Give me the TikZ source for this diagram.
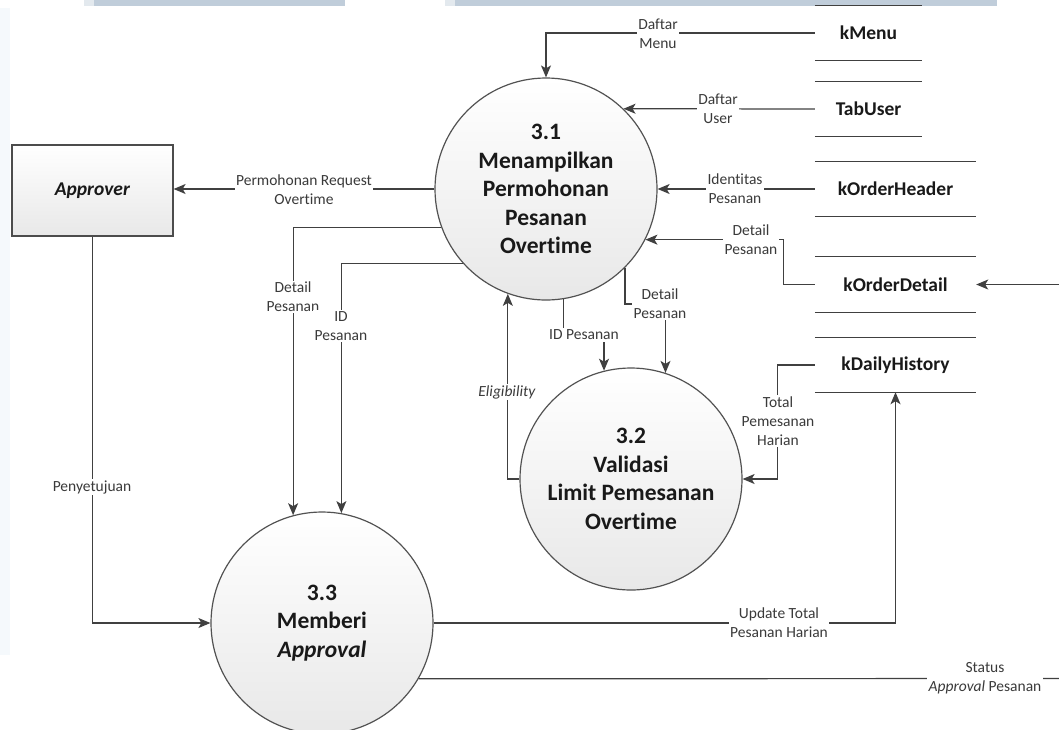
\documentclass[tikz,border=0pt]{standalone}
\usepackage{fontspec}
\setmainfont{Carlito}[Ligatures=NoCommon]
\usetikzlibrary{arrows.meta}
\definecolor{linec}{HTML}{404040}
\definecolor{txtc}{HTML}{3A3A3A}
\definecolor{bandc}{HTML}{C0CDDA}
\definecolor{stripc}{HTML}{F5F9FC}

\begin{document}
\begin{tikzpicture}[x=1pt,y=-1pt,
  proc/.style={circle, draw=black!68, line width=1.2pt, top color=white, bottom color=black!9,
    minimum size=222pt, inner sep=0pt, align=center,
    font=\fontsize{23.5}{28.5}\selectfont\bfseries, text=black!90},
  extent/.style={rectangle, draw=black!70, line width=1.2pt, top color=white, bottom color=black!9,
    minimum width=161pt, minimum height=91pt, inner sep=0pt,
    font=\fontsize{19.5}{23}\selectfont\bfseries, text=black!90},
  store/.style={inner sep=0pt, minimum height=54pt,
    font=\fontsize{19.5}{23}\selectfont\bfseries, text=black!90},
  storeline/.style={draw=linec, line width=1.3pt},
  flow/.style={draw=linec, line width=1.2pt, -{Stealth[length=12pt,width=10pt,inset=3pt]}},
  plain/.style={draw=linec, line width=1.2pt},
  lbl/.style={fill=white, inner sep=1.5pt, align=center,
    font=\fontsize{15.5}{19}\selectfont, text=txtc}
]
\useasboundingbox (0,0) rectangle (1059,729);

% page decoration: header bars and faint left strip
\fill[bandc!45] (84,0) rectangle (94,6);
\fill[bandc] (94,0) rectangle (345,6);
\fill[bandc!45] (445,0) rectangle (455,6);
\fill[bandc] (455,0) rectangle (997,6);
\fill[stripc] (0,8) rectangle (10,655);

% processes
\node[proc] (p31) at (546,189) {3.1\\Menampilkan\\Permohonan\\Pesanan\\Overtime};
\node[proc] (p32) at (631,479) {3.2\\Validasi\\Limit Pemesanan\\Overtime};
\node[proc] (p33) at (322,623) {3.3\\Memberi\\\textit{Approval}};

% external entity
\node[extent] (ap) at (92.5,190.5) {\textit{Approver}};

% data stores
\node[store, minimum width=107pt] (km) at (868.5,33) {kMenu};
\node[store, minimum width=107pt] (tu) at (868.5,109) {TabUser};
\node[store, minimum width=161pt] (oh) at (895.5,189) {kOrderHeader};
\node[store, minimum width=161pt, minimum height=55pt] (od) at (895.5,284.5) {kOrderDetail};
\node[store, minimum width=161pt] (dh) at (895.5,365) {kDailyHistory};
\foreach \s in {km,tu,oh,od,dh}
  \draw[storeline] (\s.north west) -- (\s.north east) (\s.south west) -- (\s.south east);

% free ends leaving the picture
\coordinate (odin) at (1059,284.5);
\coordinate (sout) at (1059,678.5);

% data flows
\draw[flow] (km.west) -| (p31.north);
\draw[flow] (tu.west) -- (p31.46);
\draw[flow] (oh.west) -- (p31.east);
\draw[flow] (od.west) -- ++(-31,0) |- (p31.-27);
\draw[flow] (odin) -- (od.east);
\draw[flow] (p31.west) -- (p31.west -| ap.east);
\draw[flow] (p31.200) -| (p33.105);
\draw[flow] (p31.222) -| (p33.80);
\draw[flow] (p31.-81) |- (585,335) -| (p32.104);
\draw[flow] (p31.-45) |- (645,304) -| (p32.72);
\draw[flow] (p32.west) -| (p31.-110);
\draw[flow] (dh.west) -- ++(-37,0) |- (p32.east);
\draw[flow] (ap.south) |- (p33.west);
\draw[flow] (p33.east) -| (dh.south);
\draw[plain] (p33.-30) -- (sout);

% flow labels
\node[lbl] (l1) at (658,34) {Daftar\\Menu};
\node[lbl] (l2) at (718,109) {Daftar\\User};
\node[lbl] (l3) at (735,189) {Identitas\\Pesanan};
\node[lbl] (l4) at (751,240) {Detail\\Pesanan};
\node[lbl] (l5) at (304,190) {Permohonan Request\\Overtime};
\node[lbl] (l6) at (293,297) {Detail\\Pesanan};
\node[lbl] (l7) at (341,326) {ID\\Pesanan};
\node[lbl] (l8) at (584,335) {ID Pesanan};
\node[lbl] (l9) at (660,304) {Detail\\Pesanan};
\node[lbl] (l10) at (507,392) {\textit{Eligibility}};
\node[lbl] (l11) at (778,421) {Total\\Pemesanan\\Harian};
\node[lbl] (l12) at (92,487) {Penyetujuan};
\node[lbl] (l13) at (779,622.5) {Update Total\\Pesanan Harian};
\node[lbl] (l14) at (985,678.5) {Status\\\textit{Approval} Pesanan};
\end{tikzpicture}
\end{document}
